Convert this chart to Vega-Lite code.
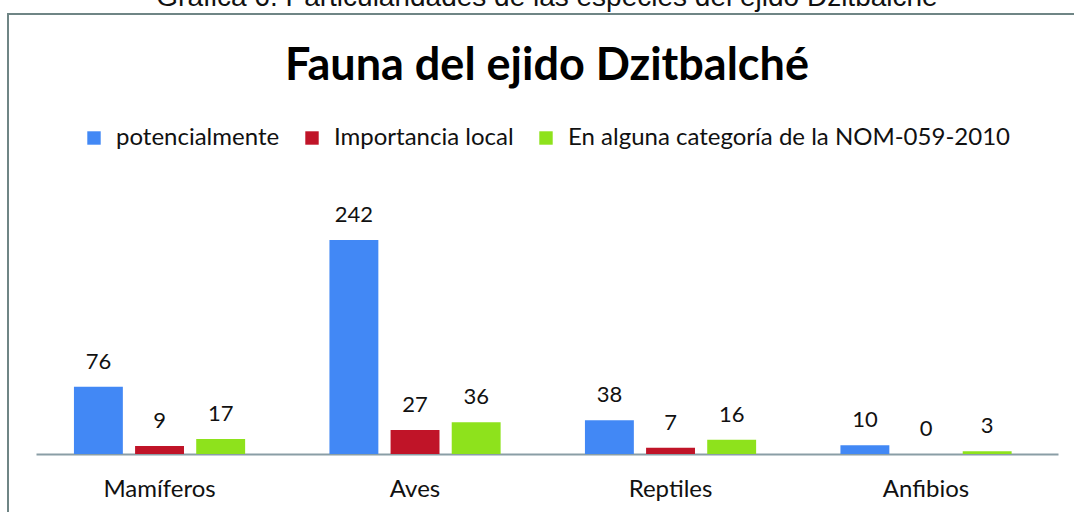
{
  "$schema": "https://vega.github.io/schema/vega-lite/v6.json",
  "width": 1078,
  "height": 510,
  "autosize": {"type": "none"},
  "padding": {"left": 8, "top": 14, "right": 0, "bottom": 0},
  "background": "white",
  "config": {"view": {"stroke": "#6f8585", "strokeWidth": 2}},
  "title": {
    "text": "Gráfica 6. Particularidades de las especies del ejido Dzitbalché",
    "subtitle": "Fauna del ejido Dzitbalché",
    "anchor": "middle",
    "frame": "group",
    "font": "Liberation Sans",
    "fontSize": 28,
    "fontWeight": "normal",
    "color": "#111111",
    "subtitleFont": "Lato",
    "subtitleFontSize": 45,
    "subtitleFontWeight": "bold",
    "subtitleColor": "#000000",
    "subtitlePadding": 32,
    "offset": -75
  },
  "data": {
    "values": [
      {"grupo": "Mamíferos", "tipo": "potencialmente", "valor": 76},
      {"grupo": "Mamíferos", "tipo": "Importancia local", "valor": 9},
      {"grupo": "Mamíferos", "tipo": "En alguna categoría de la NOM-059-2010", "valor": 17},
      {"grupo": "Aves", "tipo": "potencialmente", "valor": 242},
      {"grupo": "Aves", "tipo": "Importancia local", "valor": 27},
      {"grupo": "Aves", "tipo": "En alguna categoría de la NOM-059-2010", "valor": 36},
      {"grupo": "Reptiles", "tipo": "potencialmente", "valor": 38},
      {"grupo": "Reptiles", "tipo": "Importancia local", "valor": 7},
      {"grupo": "Reptiles", "tipo": "En alguna categoría de la NOM-059-2010", "valor": 16},
      {"grupo": "Anfibios", "tipo": "potencialmente", "valor": 10},
      {"grupo": "Anfibios", "tipo": "Importancia local", "valor": 0},
      {"grupo": "Anfibios", "tipo": "En alguna categoría de la NOM-059-2010", "valor": 3}
    ]
  },
  "encoding": {
    "x": {
      "field": "grupo",
      "type": "nominal",
      "sort": null,
      "scale": {"range": [28, 1050], "paddingInner": 0.33, "paddingOuter": 0.165, "align": 0.45},
      "axis": {
        "title": null,
        "orient": "bottom",
        "offset": -70,
        "domainColor": "#8a9ea6",
        "domainWidth": 2,
        "ticks": false,
        "tickSize": 0,
        "labelAngle": 0,
        "labelFont": "Lato",
        "labelFontSize": 24,
        "labelColor": "#111111",
        "labelPadding": 23,
        "labelBaseline": "top"
      }
    },
    "xOffset": {
      "field": "tipo",
      "type": "nominal",
      "sort": ["potencialmente", "Importancia local", "En alguna categoría de la NOM-059-2010"],
      "scale": {"paddingInner": 0.2, "paddingOuter": 0}
    },
    "y": {
      "field": "valor",
      "type": "quantitative",
      "scale": {"domain": [-79.2, 497.6], "nice": false, "zero": false},
      "axis": null
    }
  },
  "layer": [
    {
      "mark": {"type": "bar"},
      "encoding": {
        "y2": {"datum": 0},
        "color": {
          "field": "tipo",
          "type": "nominal",
          "scale": {
            "domain": ["potencialmente", "Importancia local", "En alguna categoría de la NOM-059-2010"],
            "range": ["#4288f5", "#c01428", "#8ee21c"]
          },
          "legend": {
            "orient": "none",
            "legendX": 74,
            "legendY": 112,
            "padding": 0,
            "direction": "horizontal",
            "columns": 3,
            "title": null,
            "symbolType": "square",
            "symbolSize": 180,
            "symbolStrokeWidth": 0,
            "symbolOpacity": 1,
            "labelFont": "Lato",
            "labelFontSize": 24,
            "labelColor": "#111111",
            "labelOffset": 10,
            "labelLimit": 600,
            "columnPadding": 20
          }
        }
      }
    },
    {
      "mark": {"type": "text", "baseline": "alphabetic", "dy": -18, "font": "Lato", "fontSize": 22, "color": "#111111"},
      "encoding": {"text": {"field": "valor", "type": "quantitative"}}
    }
  ]
}
